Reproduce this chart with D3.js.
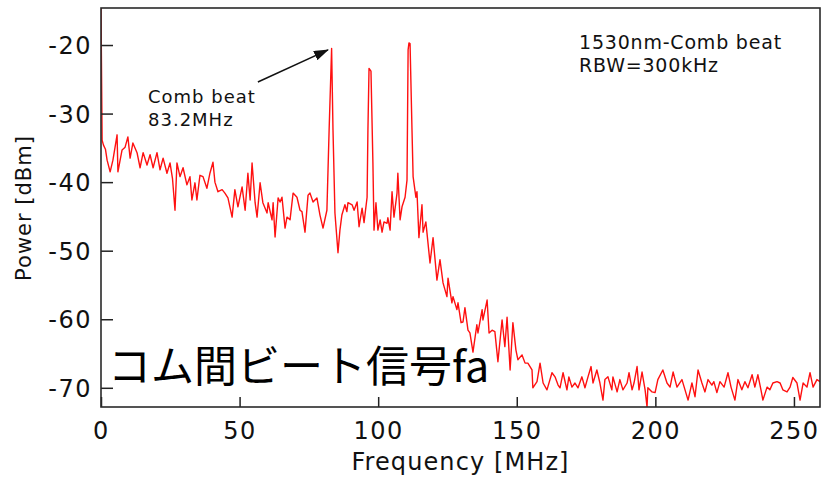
<!DOCTYPE html>
<html>
<head>
<meta charset="utf-8">
<script src="https://cdnjs.cloudflare.com/ajax/libs/d3/7.8.5/d3.min.js"></script>
<style>
    body { margin: 0; background: #fff; }
    svg { display: block; }
    text { font-family: 'DejaVu Sans', Verdana, sans-serif; fill: #111; }
</style>
</head>
<body>
<div id="chart"></div>
<script>
// spectrum: [frequency MHz, power dBm]
let spectrum = [
    [0, -14.6], [0.4, -33.9], [0.9, -34.6], [1.6, -35.2], [2.2, -36.8], [3.3, -38.5], [4.3, -36.8], [5.8, -33.1],
    [6.1, -38.5], [7.6, -35.3], [8.7, -34.9], [9.7, -33.4], [10.5, -36.5], [11.5, -34.3], [13.0, -35.7], [14.1, -37.9],
    [15.2, -35.7], [16.6, -37.5], [17.7, -36.0], [18.8, -37.9], [20.2, -35.7], [21.3, -38.2], [22.4, -36.5], [23.8, -38.7],
    [24.9, -37.2], [25.8, -39.5], [26.7, -44.1], [27.4, -37.2], [28.5, -39.2], [29.6, -37.9], [31.0, -40.4], [32.1, -39.2],
    [32.8, -42.6], [33.9, -40.1], [34.6, -42.6], [35.7, -39.0], [36.8, -39.2], [38.2, -40.9], [39.3, -38.7], [40.4, -37.1],
    [41.1, -40.0], [42.2, -41.4], [43.7, -41.1], [44.7, -41.6], [45.8, -42.3], [47.3, -45.1], [48.3, -41.1], [49.4, -43.6],
    [50.9, -40.7], [52.0, -44.1], [53.0, -38.7], [53.8, -42.6], [54.5, -37.2], [55.6, -43.0], [56.3, -45.1], [57.4, -40.1],
    [58.4, -43.0], [59.9, -44.5], [60.3, -43.0], [61.7, -45.5], [62.1, -43.0], [62.8, -48.0], [63.9, -42.3], [64.6, -42.9],
    [65.3, -42.2], [66.4, -46.7], [67.1, -45.1], [68.2, -45.5], [69.3, -41.6], [70.7, -42.2], [71.8, -44.1], [72.5, -44.3],
    [73.6, -47.3], [74.7, -41.9], [75.4, -41.6], [76.5, -42.9], [77.9, -42.3], [79.0, -44.8], [80.1, -46.7], [81.5, -44.1],
    [82.3, -32.4], [83.2, -20.5], [83.7, -32.4], [84.4, -44.5], [85.5, -50.3], [86.2, -47.0], [86.9, -44.8], [88.0, -43.3],
    [88.7, -44.3], [89.1, -43.0], [90.6, -43.3], [91.3, -44.1], [92.4, -42.9], [93.1, -46.5], [94.2, -43.8], [94.9, -45.9],
    [96.0, -42.2], [96.3, -32.4], [96.7, -23.4], [97.4, -23.8], [98.1, -37.2], [98.5, -47.0], [99.2, -43.0], [99.9, -47.0],
    [100.7, -45.5], [101.4, -47.3], [102.1, -45.8], [103.2, -46.0], [103.5, -45.2], [104.3, -47.0], [105.0, -41.4], [105.7, -45.1],
    [106.8, -41.6], [107.1, -38.7], [107.9, -45.5], [108.6, -43.6], [109.7, -42.2], [110.4, -39.7], [110.8, -20.7], [111.1, -19.7],
    [111.5, -19.8], [112.2, -32.4], [112.6, -39.2], [113.6, -42.2], [114.0, -41.4], [114.7, -48.1], [115.8, -43.3], [116.2, -47.3],
    [117.2, -45.8], [118.7, -51.8], [119.8, -48.1], [121.2, -54.3], [122.3, -51.3], [123.4, -54.7], [124.8, -56.7], [125.2, -54.0],
    [126.6, -57.6], [127.0, -56.7], [128.4, -58.6], [128.8, -57.6], [129.9, -60.5], [130.6, -60.4], [131.3, -58.3], [132.4, -61.6],
    [133.1, -62.0], [134.2, -64.8], [135.6, -60.8], [136.0, -62.0], [137.5, -58.6], [137.8, -60.1], [139.3, -57.2], [140.0, -62.0],
    [141.1, -61.6], [142.1, -61.8], [143.2, -66.2], [144.7, -60.1], [145.7, -64.0], [146.5, -59.7], [147.6, -67.4], [148.6, -60.5],
    [149.7, -64.5], [150.4, -65.9], [151.9, -65.2], [153.0, -66.4], [154.0, -66.4], [155.5, -67.4], [155.8, -70.0], [157.3, -69.1],
    [158.4, -66.4], [159.5, -69.3], [160.9, -70.3], [162.7, -67.8], [163.8, -68.4], [164.9, -69.6], [165.6, -70.0], [166.7, -67.8],
    [168.1, -70.3], [168.8, -68.4], [169.9, -69.9], [171.0, -69.3], [172.1, -70.0], [173.5, -68.4], [174.6, -70.0], [175.7, -68.4],
    [176.8, -66.9], [177.5, -69.3], [178.9, -67.4], [180.0, -69.3], [181.1, -71.8], [181.8, -68.8], [182.9, -68.4], [184.3, -70.3],
    [184.7, -68.4], [186.2, -70.6], [187.2, -68.8], [188.3, -70.3], [189.8, -69.3], [190.5, -67.8], [191.6, -70.3], [192.3, -69.3],
    [193.4, -66.9], [194.1, -70.3], [195.2, -67.7], [196.3, -70.3], [197.0, -72.8], [197.3, -70.0], [198.8, -70.6], [199.9, -70.7],
    [200.9, -68.8], [202.7, -67.4], [204.2, -69.3], [205.3, -69.9], [206.4, -67.7], [207.8, -69.9], [209.6, -68.8], [210.7, -70.3],
    [211.8, -71.8], [213.2, -69.3], [214.3, -71.3], [215.4, -67.4], [216.8, -69.3], [217.9, -70.6], [219.0, -68.8], [220.4, -69.6],
    [221.1, -69.1], [222.2, -70.7], [223.3, -69.1], [224.8, -69.9], [226.2, -67.8], [227.3, -69.9], [228.7, -71.8], [229.8, -68.8],
    [231.2, -70.3], [232.3, -69.1], [233.4, -70.0], [234.9, -68.1], [235.9, -69.9], [237.0, -68.1], [238.1, -70.3], [238.8, -71.8],
    [240.3, -69.9], [241.3, -70.3], [242.4, -69.3], [243.9, -69.1], [245.0, -69.3], [246.0, -70.3], [247.5, -70.6], [248.6, -69.9],
    [249.6, -68.5], [251.1, -69.3], [252.2, -71.8], [253.3, -69.3], [254.7, -69.9], [255.8, -67.8], [256.9, -69.9], [258.3, -68.8],
    [259.4, -69.1]
]

let xDomain = [0, 259.4]
let yDomain = [-72.8, -14.6]
let xTicks = [0, 50, 100, 150, 200, 250]
let yTicks = [-20, -30, -40, -50, -60, -70]
let xTitle = 'Frequency [MHz]'
let yTitle = 'Power [dBm]'
let arrowTail = [56.6, -25.4]
let arrowTip = [81.9, -20.7]
let beatLabel = ['Comb beat', '83.2MHz']
let infoLabel = ['1530nm-Comb beat', 'RBW=300kHz']
let caption = 'コム間ビート信号fa'

let svgWidth = 823
let svgHeight = 478

let margin = {
    top: 8,
    right: 3,
    bottom: 71,
    left: 101
}

let chartWidth = svgWidth - margin.left - margin.right
let chartHeight = svgHeight - margin.top - margin.bottom

let svg = d3.select('#chart')
    .append('svg')
    .attr('width', svgWidth)
    .attr('height', svgHeight)

let chartGroup = svg.append('g')
    .attr('transform', `translate(${margin.left}, ${margin.top})`)

let x = d3.scaleLinear().domain(xDomain).range([0, chartWidth])
let y = d3.scaleLinear().domain(yDomain).range([chartHeight, 0])

svg.append('defs')
    .append('clipPath')
    .attr('id', 'plotClip')
    .append('rect')
    .attr('width', chartWidth)
    .attr('height', chartHeight)

let arrowHead = svg.select('defs')
    .append('marker')
    .attr('id', 'arrowHead')
    .attr('markerUnits', 'userSpaceOnUse')
    .attr('markerWidth', 15)
    .attr('markerHeight', 10)
    .attr('refX', 14)
    .attr('refY', 5)
    .attr('orient', 'auto')
arrowHead.append('path')
    .attr('d', 'M0,0 L15,5 L0,10 Z')
    .attr('fill', '#111')

// trace
let line = d3.line()
    .x(d => x(d[0]))
    .y(d => y(d[1]))

chartGroup.append('path')
    .datum(spectrum)
    .attr('clip-path', 'url(#plotClip)')
    .attr('d', line)
    .attr('fill', 'none')
    .attr('stroke', '#ff1010')
    .attr('stroke-width', 1.4)
    .attr('stroke-linejoin', 'round')

// axes, ticks point inwards
let xAxis = chartGroup.append('g')
    .attr('transform', `translate(0, ${chartHeight})`)
    .call(d3.axisBottom(x).tickValues(xTicks).tickSize(-10).tickFormat(d => String(d)))
xAxis.select('.domain').remove()
xAxis.selectAll('line').attr('stroke', '#222').attr('stroke-width', 1.5)
xAxis.selectAll('text')
    .attr('y', 32)
    .attr('dy', null)
    .attr('font-size', 24)
    .attr('letter-spacing', 1.5)

let yAxis = chartGroup.append('g')
    .call(d3.axisLeft(y).tickValues(yTicks).tickSize(-12).tickFormat(d => String(d)))
yAxis.select('.domain').remove()
yAxis.selectAll('line').attr('stroke', '#222').attr('stroke-width', 1.5)
yAxis.selectAll('text')
    .attr('x', -9)
    .attr('dy', '0.36em')
    .attr('font-size', 24)
    .attr('letter-spacing', 1.5)

d3.selectAll('.tick text').attr('font-family', null).attr('fill', '#111')
chartGroup.selectAll('g').attr('font-family', null).attr('font-size', null)

chartGroup.append('rect')
    .attr('width', chartWidth)
    .attr('height', chartHeight)
    .attr('fill', 'none')
    .attr('stroke', '#2a2a2a')
    .attr('stroke-width', 1.6)

// axis titles
svg.append('text')
    .attr('x', margin.left + chartWidth / 2)
    .attr('y', 470)
    .attr('text-anchor', 'middle')
    .attr('font-size', 24)
    .attr('letter-spacing', 1.1)
    .text(xTitle)

svg.append('text')
    .attr('transform', `translate(31, 208) rotate(-90)`)
    .attr('text-anchor', 'middle')
    .attr('font-size', 21)
    .attr('letter-spacing', 1)
    .text(yTitle)

// annotations
chartGroup.append('line')
    .attr('x1', x(arrowTail[0]))
    .attr('y1', y(arrowTail[1]))
    .attr('x2', x(arrowTip[0]))
    .attr('y2', y(arrowTip[1]))
    .attr('stroke', '#111')
    .attr('stroke-width', 1.5)
    .attr('marker-end', 'url(#arrowHead)')

svg.selectAll('.beat')
    .data(beatLabel)
    .enter()
    .append('text')
    .classed('beat', true)
    .attr('x', 148)
    .attr('y', (d, i) => 103 + i * 23)
    .attr('font-size', 18)
    .attr('letter-spacing', 1)
    .text(d => d)

svg.selectAll('.info')
    .data(infoLabel)
    .enter()
    .append('text')
    .classed('info', true)
    .attr('x', 579)
    .attr('y', (d, i) => 49 + i * 23)
    .attr('font-size', 19)
    .attr('letter-spacing', 0.8)
    .text(d => d)

svg.append('text')
    .attr('x', 108)
    .attr('y', 382)
    .style('font-family', "'Noto Sans CJK JP', sans-serif")
    .attr('font-size', 43)
    .style('fill', '#000')
    .text(caption)
</script>
</body>
</html>
